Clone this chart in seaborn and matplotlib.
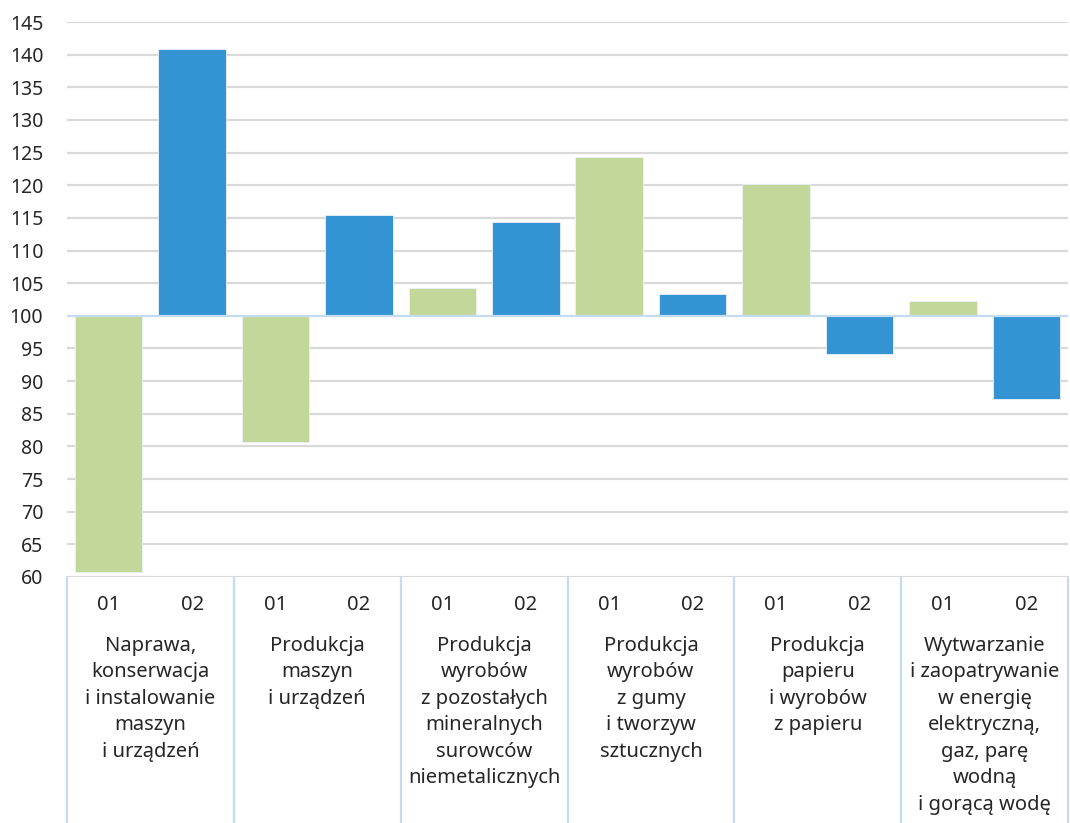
import pandas as pd
import seaborn as sns
import matplotlib.pyplot as plt

# Branches (multi-level category axis) and sub-periods
branches = ["Naprawa,\nkonserwacja\ni instalowanie\nmaszyn\ni urządzeń",
            "Produkcja\nmaszyn\ni urządzeń",
            "Produkcja\nwyrobów\nz pozostałych\nmineralnych\nsurowców\nniemetalicznych",
            "Produkcja\nwyrobów\nz gumy\ni tworzyw\nsztucznych",
            "Produkcja\npapieru\ni wyrobów\nz papieru",
            "Wytwarzanie\ni zaopatrywanie\nw energię\nelektryczną,\ngaz, parę\nwodną\ni gorącą wodę"]
periods = ["01", "02"]
values_01 = [60.8, 80.7, 104.3, 124.4, 120.2, 102.3]
values_02 = [140.9, 115.4, 114.4, 103.4, 94.2, 87.2]

base = 100
green = "#c4d79b"
blue = "#3494d3"

rows = []
for i, b in enumerate(branches):
    rows.append({"slot": f"{i}-01", "period": "01", "value": values_01[i]})
    rows.append({"slot": f"{i}-02", "period": "02", "value": values_02[i]})
df = pd.DataFrame(rows)
df["delta"] = df["value"] - base

sns.set_style("white")
plt.rcParams['font.family'] = ['Noto Sans', 'DejaVu Sans']
txt = "#262626"

fig = plt.figure(figsize=(10.7, 8.23), dpi=100)
ax = fig.add_axes([67 / 1070, 1 - 577 / 823, 1001 / 1070, 555 / 823])

# gridlines first
for y in range(60, 150, 5):
    if y != base:
        ax.axhline(y, color="#d9d9d9", lw=1.6, zorder=0)

sns.barplot(data=df, x="slot", y="delta", hue="period", bottom=base,
            palette={"01": green, "02": blue}, dodge=False, width=0.81,
            saturation=1, edgecolor="#eaf2fa", linewidth=0.6, legend=False,
            ax=ax, zorder=2)

ax.axhline(base, color="#c5dcf0", lw=1.6, zorder=3)

ax.set_ylim(60, 145)
ax.set_xlim(-0.5, len(df) - 0.5)
ax.set_yticks(range(60, 150, 5))
ax.tick_params(axis="y", length=0, pad=17, labelsize=14, labelcolor=txt)
ax.set_xticks(range(len(df)))
ax.set_xticklabels([p for _ in branches for p in periods])
ax.tick_params(axis="x", length=0, pad=13, labelsize=14.5, labelcolor=txt)
ax.set_xlabel("")
ax.set_ylabel("")
for s in ax.spines.values():
    s.set_visible(False)

trans = ax.get_xaxis_transform()
h = 555.0
for k in range(len(branches) + 1):
    ax.plot([2 * k - 0.5, 2 * k - 0.5], [0, -(823 - 577) / h], transform=trans,
            color="#c5dcf0", lw=1.6, clip_on=False)
for i, b in enumerate(branches):
    ax.text(2 * i + 0.5, -(636 - 577) / h, b, transform=trans, ha="center", va="top",
            fontsize=14.5, color=txt, linespacing=1.43)

fig.savefig("out.png", dpi=100)
